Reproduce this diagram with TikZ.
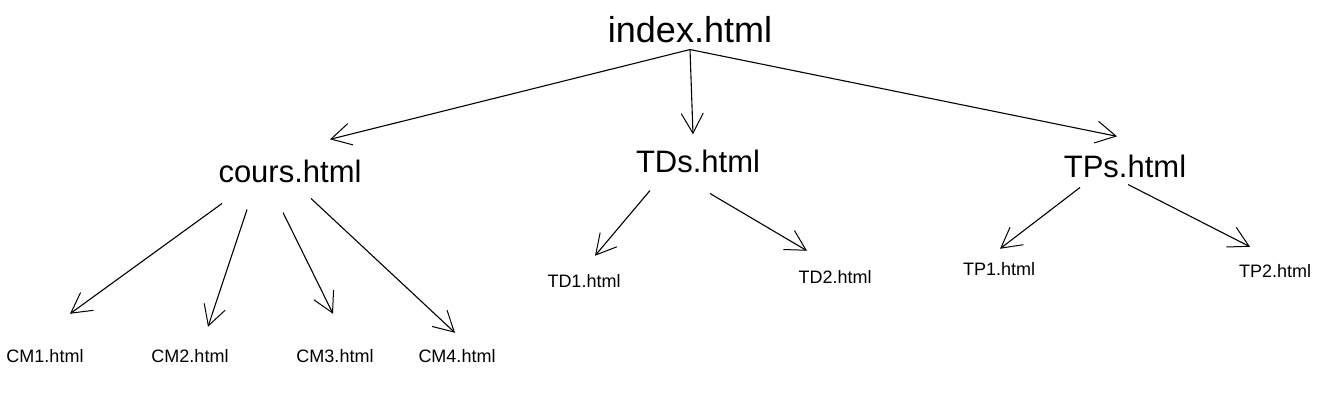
\documentclass[tikz,border=0pt]{standalone}
\usepackage{fontspec}
\setmainfont{Liberation Sans}
\usetikzlibrary{arrows.meta}

\tikzset{
    rootpage/.style={inner sep=0pt, anchor=base, font=\fontsize{36}{40}\selectfont},
    sectionpage/.style={inner sep=0pt, anchor=base, font=\fontsize{31}{35}\selectfont},
    leafpage/.style={inner sep=0pt, anchor=base, font=\fontsize{18}{21}\selectfont},
    link/.style={line width=1.1pt, -{Straight Barb[length=20pt,width=22pt,line width=1pt]}}
}

\begin{document}
\begin{tikzpicture}[x=1pt, y=-1pt]
    \useasboundingbox (0,0) rectangle (1332,403);

    % Home page
    \node[rootpage] (index) at (690,43) {index.html};

    % Sections
    \node[sectionpage] (cours) at (290,183) {cours.html};
    \node[sectionpage] (tds) at (698,173) {TDs.html};
    \node[sectionpage] (tps) at (1125,178) {TPs.html};

    % Pages of each section
    \node[leafpage] (cm1) at (45,362) {CM1.html};
    \node[leafpage] (cm2) at (190,362) {CM2.html};
    \node[leafpage] (cm3) at (335,362) {CM3.html};
    \node[leafpage] (cm4) at (457,362) {CM4.html};
    \node[leafpage] (td1) at (584,287) {TD1.html};
    \node[leafpage] (td2) at (835,283) {TD2.html};
    \node[leafpage] (tp1) at (999,275) {TP1.html};
    \node[leafpage] (tp2) at (1275,277) {TP2.html};

    % Links from the home page
    \draw[link] ([yshift=-6pt]index.south) -- ([xshift=40pt,yshift=21pt]cours.north);
    \draw[link] ([yshift=-6pt]index.south) -- ([xshift=-5pt,yshift=16pt]tds.north);
    \draw[link] ([yshift=-6pt]index.south) -- ([xshift=-8pt,yshift=19pt]tps.north);

    % Links to the lectures
    \draw[link] ([xshift=-68pt,yshift=-20pt]cours.south) -- ([xshift=25pt,yshift=35pt]cm1.north);
    \draw[link] ([xshift=-43pt,yshift=-26pt]cours.south) -- ([xshift=18pt,yshift=22pt]cm2.north);
    \draw[link] ([xshift=-7pt,yshift=-29pt]cours.south) -- ([xshift=-2pt,yshift=35pt]cm3.north);
    \draw[link] ([xshift=21pt,yshift=-15pt]cours.south) -- ([xshift=-2pt,yshift=16pt]cm4.north);

    % Links to the TDs and TPs
    \draw[link] ([xshift=-48pt,yshift=-17pt]tds.south) -- ([xshift=11pt,yshift=18pt]td1.north);
    \draw[link] ([xshift=12pt,yshift=-20pt]tds.south) -- ([xshift=-28pt,yshift=19pt]td2.north);
    \draw[link] ([xshift=-45pt,yshift=-9pt]tps.south) -- ([xshift=1pt,yshift=13pt]tp1.north);
    \draw[link] ([xshift=3pt,yshift=-6pt]tps.south) -- ([xshift=-25pt,yshift=17pt]tp2.north);
\end{tikzpicture}
\end{document}
